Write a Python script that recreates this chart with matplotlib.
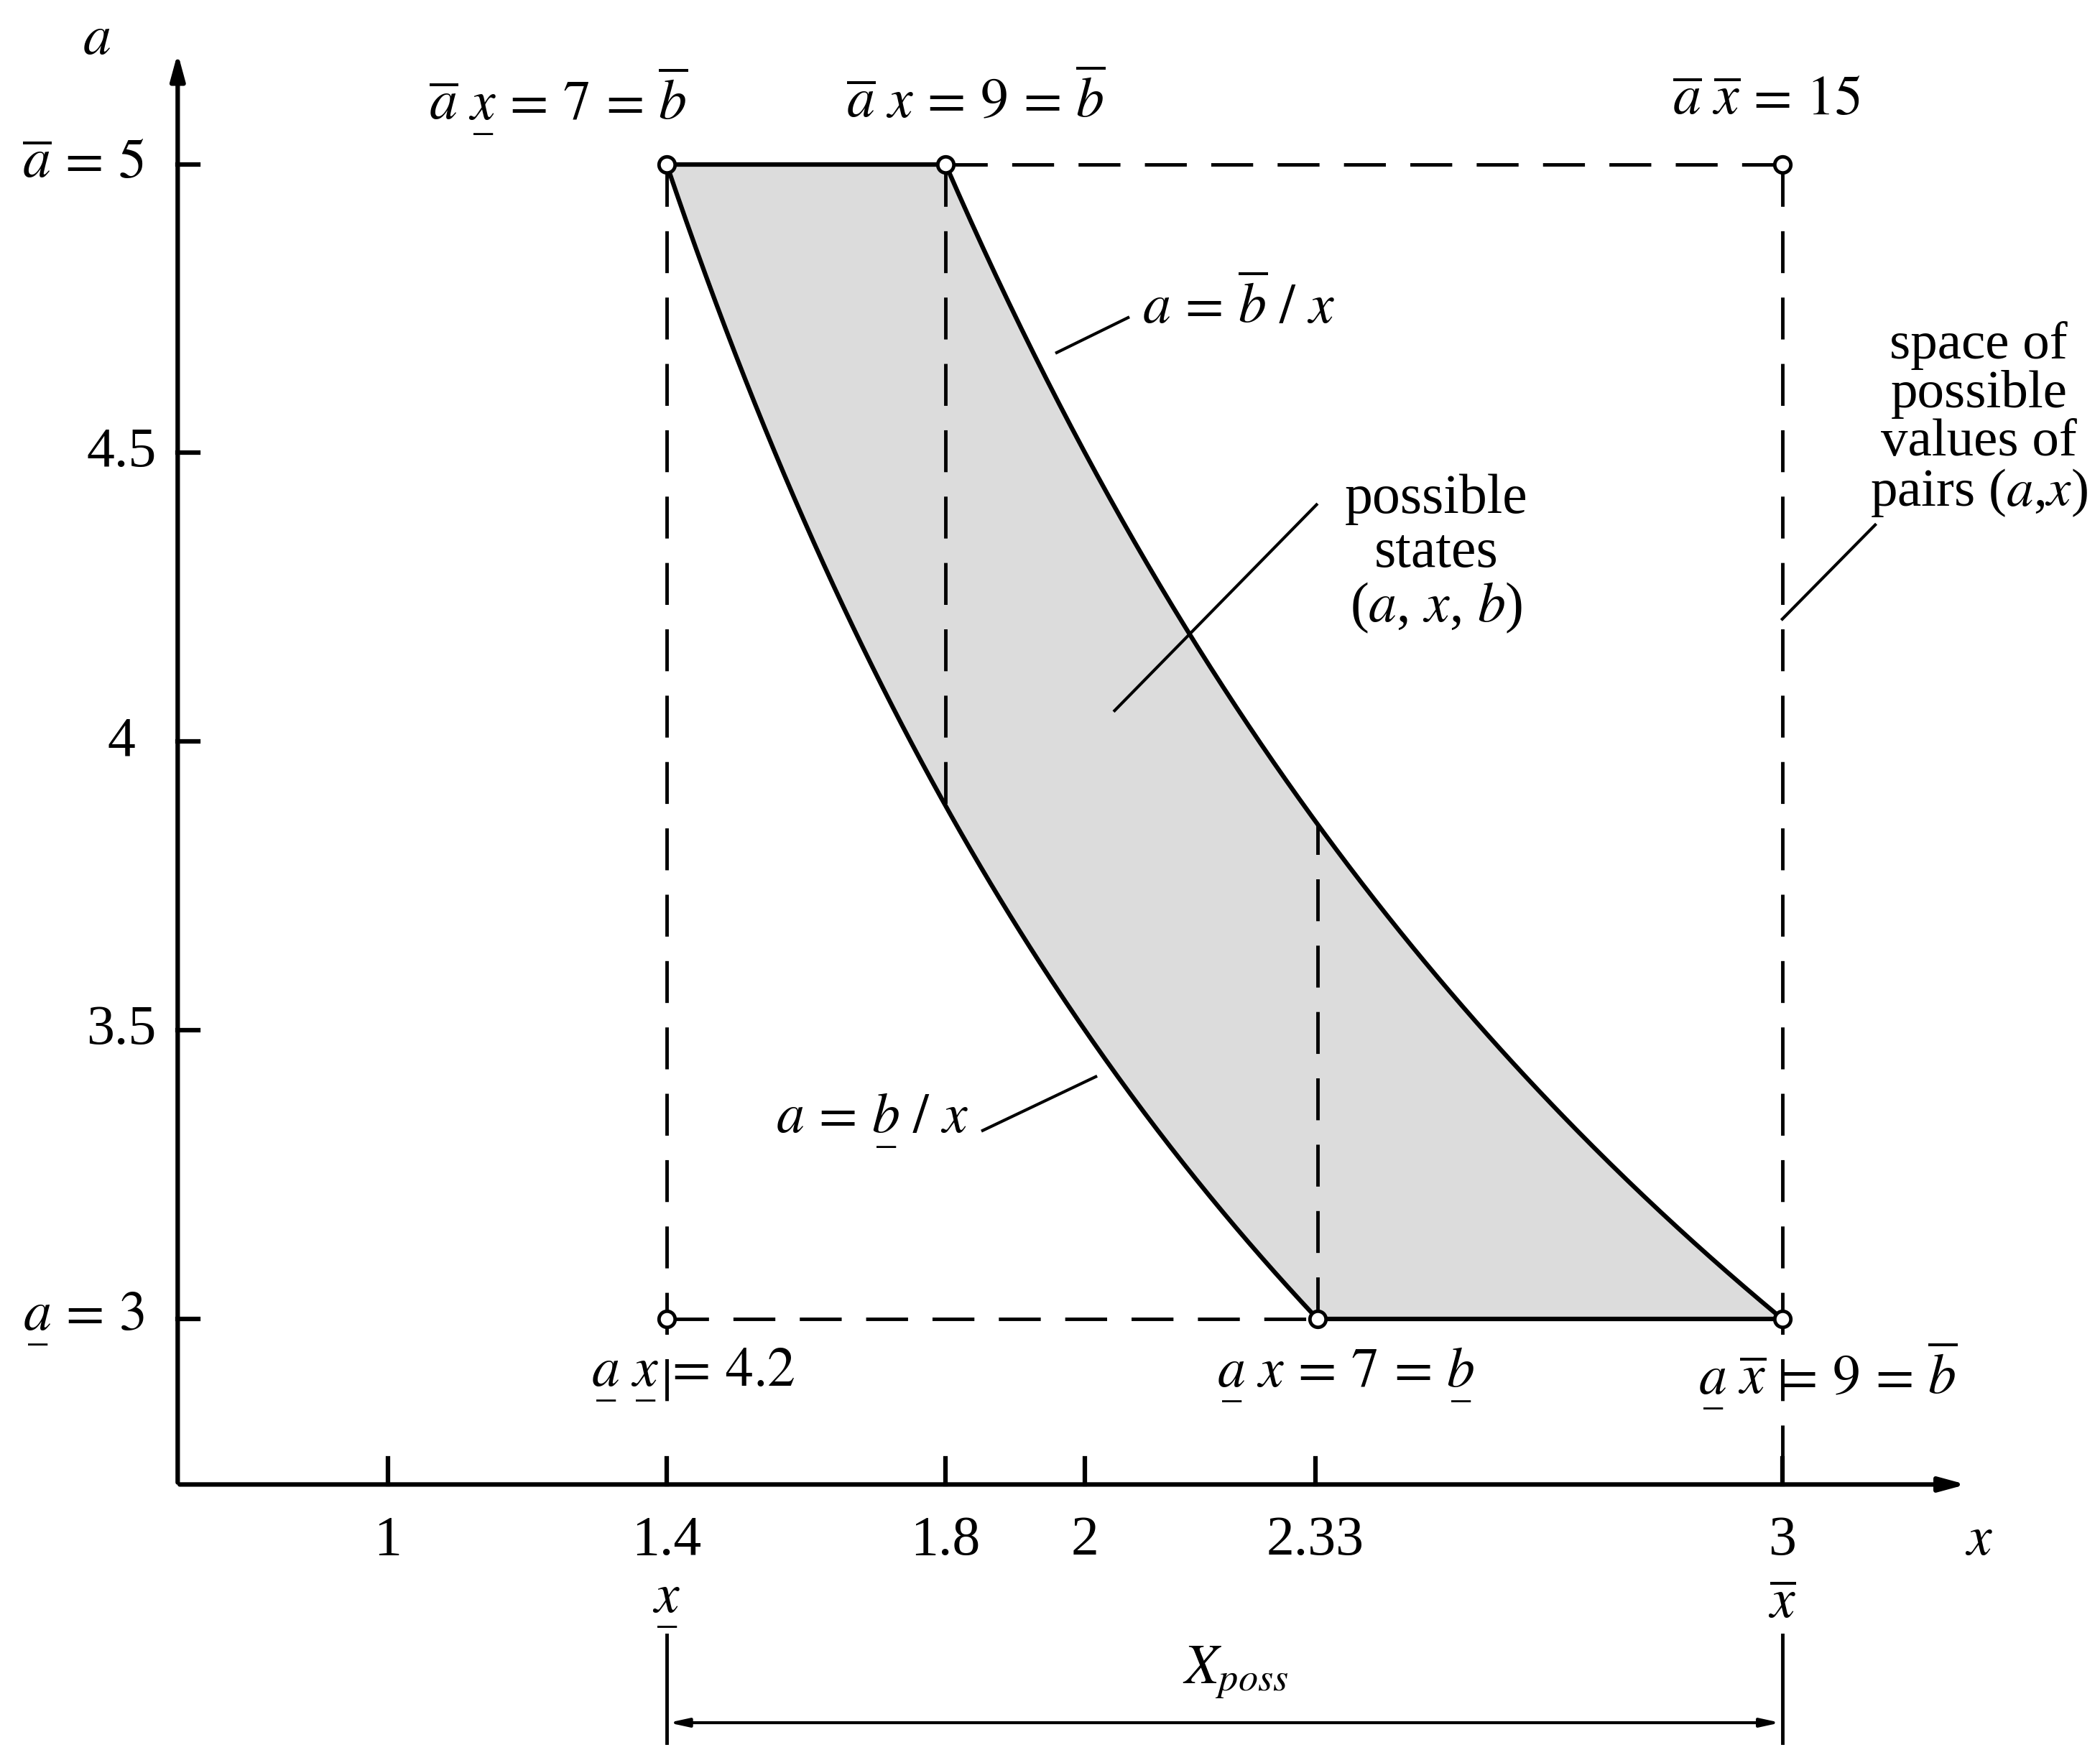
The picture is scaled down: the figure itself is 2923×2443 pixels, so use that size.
import numpy as np
import matplotlib.pyplot as plt

plt.rcParams['mathtext.fontset'] = 'stix'
plt.rcParams['font.family'] = ['Liberation Serif', 'DejaVu Serif']

# data
x_low, x_mid, x_2, x_high = 1.4, 1.8, 7 / 3, 3.0
a_low, a_high = 3.0, 5.0
b_low, b_high = 7.0, 9.0
xticks = [1, 1.4, 1.8, 2, 2.33, 3]
xtick_labels = ['1', '1.4', '1.8', '2', '2.33', '3']
yticks = [3.5, 4, 4.5]
corner_pts_x = [1.4, 1.8, 3.0, 1.4, 7 / 3, 3.0]
corner_pts_y = [5, 5, 5, 3, 3, 3]

U = lambda c: r'\underset{\_}{' + c + '}'


def p(px, py):
    # reference pixel position (1560 wide view) -> data coords
    return 1 + (px - 288) / 518, 5 - (py - 122) / 429


fig = plt.figure(figsize=(29.23, 24.43), dpi=100)
ax = fig.add_axes([0, 0, 1, 1])
ax.set_xlim(p(0, 0)[0], p(1560, 0)[0])
ax.set_ylim(p(0, 1304)[1], p(0, 0)[1])
ax.axis('off')

fs = 56
lw = 4.5

# shaded region
xs = np.linspace(x_low, x_high, 400)
lower = np.clip(b_low / xs, a_low, a_high)
upper = np.clip(b_high / xs, a_low, a_high)
ax.fill_between(xs, lower, upper, color='#dcdcdc', zorder=1)
xl = np.linspace(x_low, x_2, 200)
ax.plot(xl, b_low / xl, color='black', lw=lw, zorder=3)
xu = np.linspace(x_mid, x_high, 200)
ax.plot(xu, b_high / xu, color='black', lw=lw, zorder=3)
ax.plot([x_low, x_mid], [a_high, a_high], color='black', lw=lw, zorder=3)
ax.plot([x_2, x_high], [a_low, a_low], color='black', lw=lw, zorder=3)

# dashed lines
dash = dict(color='black', lw=3.5, dashes=(12, 7), zorder=2)
ax.plot([x_mid, x_high], [a_high, a_high], **dash)
ax.plot([x_low, x_2], [a_low, a_low], **dash)
ax.plot([x_low, x_low], [a_high, p(0, 1050)[1]], **dash)
ax.plot([x_high, x_high], [a_high, p(0, 1100)[1]], **dash)
ax.plot([x_mid, x_mid], [a_high, b_low / x_mid], **dash)
ax.plot([x_2, x_2], [a_low, b_high / x_2], **dash)

ax.scatter(corner_pts_x, corner_pts_y, s=260, facecolor='white',
           edgecolor='black', linewidth=3.5, zorder=5)

# axes with arrows
x0, y0 = p(132, 1103)
ax.annotate('', xy=(p(1462, 0)[0], y0), xytext=(x0, y0),
            arrowprops=dict(arrowstyle='-|>,head_length=2.2,head_width=0.6',
                            color='black', lw=lw))
ax.annotate('', xy=(x0, p(0, 38)[1]), xytext=(x0, y0),
            arrowprops=dict(arrowstyle='-|>,head_length=2.2,head_width=0.6',
                            color='black', lw=lw))
for t, lab in zip(xticks, xtick_labels):
    ax.plot([t, t], [y0, y0 + 0.045], color='black', lw=lw)
    ax.text(t, p(0, 1145)[1], lab, ha='center', va='center', fontsize=fs)
for t in yticks + [3, 5]:
    ax.plot([x0, x0 + 0.03], [t, t], color='black', lw=lw)
for t in yticks:
    ax.text(p(90, 0)[0], t, f'{t:g}', ha='center', va='center', fontsize=fs)
ax.text(p(62, 0)[0], 5, r'$\overline{a}\,=\,5$', ha='center', va='center', fontsize=fs)
ax.text(p(62, 0)[0], 3, r'$' + U('a') + r'\,=\,3$', ha='center', va='center', fontsize=fs)
ax.text(*p(72, 30), r'$a$', ha='center', va='center', fontsize=fs)
ax.text(*p(1470, 1145), r'$x$', ha='center', va='center', fontsize=fs)
ax.text(1.4, p(0, 1192)[1], r'$' + U('x') + '$', ha='center', va='center', fontsize=fs)
ax.text(3.0, p(0, 1192)[1], r'$\overline{x}$', ha='center', va='center', fontsize=fs)

# corner labels
ax.text(*p(415, 75), r'$\overline{a}\ ' + U('x') + r'\,=\,7\,=\,\overline{b}$', ha='center', va='center', fontsize=fs)
ax.text(*p(725, 75), r'$\overline{a}\ x\,=\,9\,=\,\overline{b}$', ha='center', va='center', fontsize=fs)
ax.text(*p(1312, 75), r'$\overline{a}\ \overline{x}\,=\,15$', ha='center', va='center', fontsize=fs)
ax.text(*p(515, 1022), r'$' + U('a') + r'\ ' + U('x') + r'\,=\,4.2$', ha='center', va='center', fontsize=fs)
ax.text(*p(1000, 1022), r'$' + U('a') + r'\ x\,=\,7\,=\,' + U('b') + '$', ha='center', va='center', fontsize=fs)
ax.text(*p(1358, 1022), r'$' + U('a') + r'\ \overline{x}\,=\,9\,=\,\overline{b}$', ha='center', va='center', fontsize=fs)

# annotations with leader lines
ax.text(*p(920, 228), r'$a\,=\,\overline{b}\ /\ x$', ha='center', va='center', fontsize=fs)
ax.plot(*zip(p(785, 262), p(838, 236)), color='black', lw=3)
ax.text(*p(648, 833), r'$a\,=\,' + U('b') + r'\ /\ x$', ha='center', va='center', fontsize=fs)
ax.plot(*zip(p(730, 840), p(814, 800)), color='black', lw=3)
ax.text(*p(1067, 412), 'possible\nstates\n($a$, $x$, $b$)', ha='center', va='center',
        fontsize=fs, linespacing=1.05)
ax.plot(*zip(p(828, 528), p(978, 375)), color='black', lw=3)
ax.text(*p(1470, 312), 'space of\npossible\nvalues of\npairs ($a$,$x$)', ha='center',
        va='center', fontsize=fs - 2, linespacing=1.0)
ax.plot(*zip(p(1324, 460), p(1393, 390)), color='black', lw=3)

# X_poss dimension
ya, yb = p(0, 1215)[1], p(0, 1295)[1]
ax.plot([1.4, 1.4], [ya, yb], color='black', lw=3.5)
ax.plot([3.0, 3.0], [ya, yb], color='black', lw=3.5)
ax.annotate('', xy=(1.4, p(0, 1280)[1]), xytext=(3.0, p(0, 1280)[1]),
            arrowprops=dict(arrowstyle='<|-|>,head_length=1.6,head_width=0.35',
                            color='black', lw=3))
ax.text(*p(918, 1243), r'$X_{poss}$', ha='center', va='center', fontsize=fs)

fig.savefig('out.png', dpi=100)
